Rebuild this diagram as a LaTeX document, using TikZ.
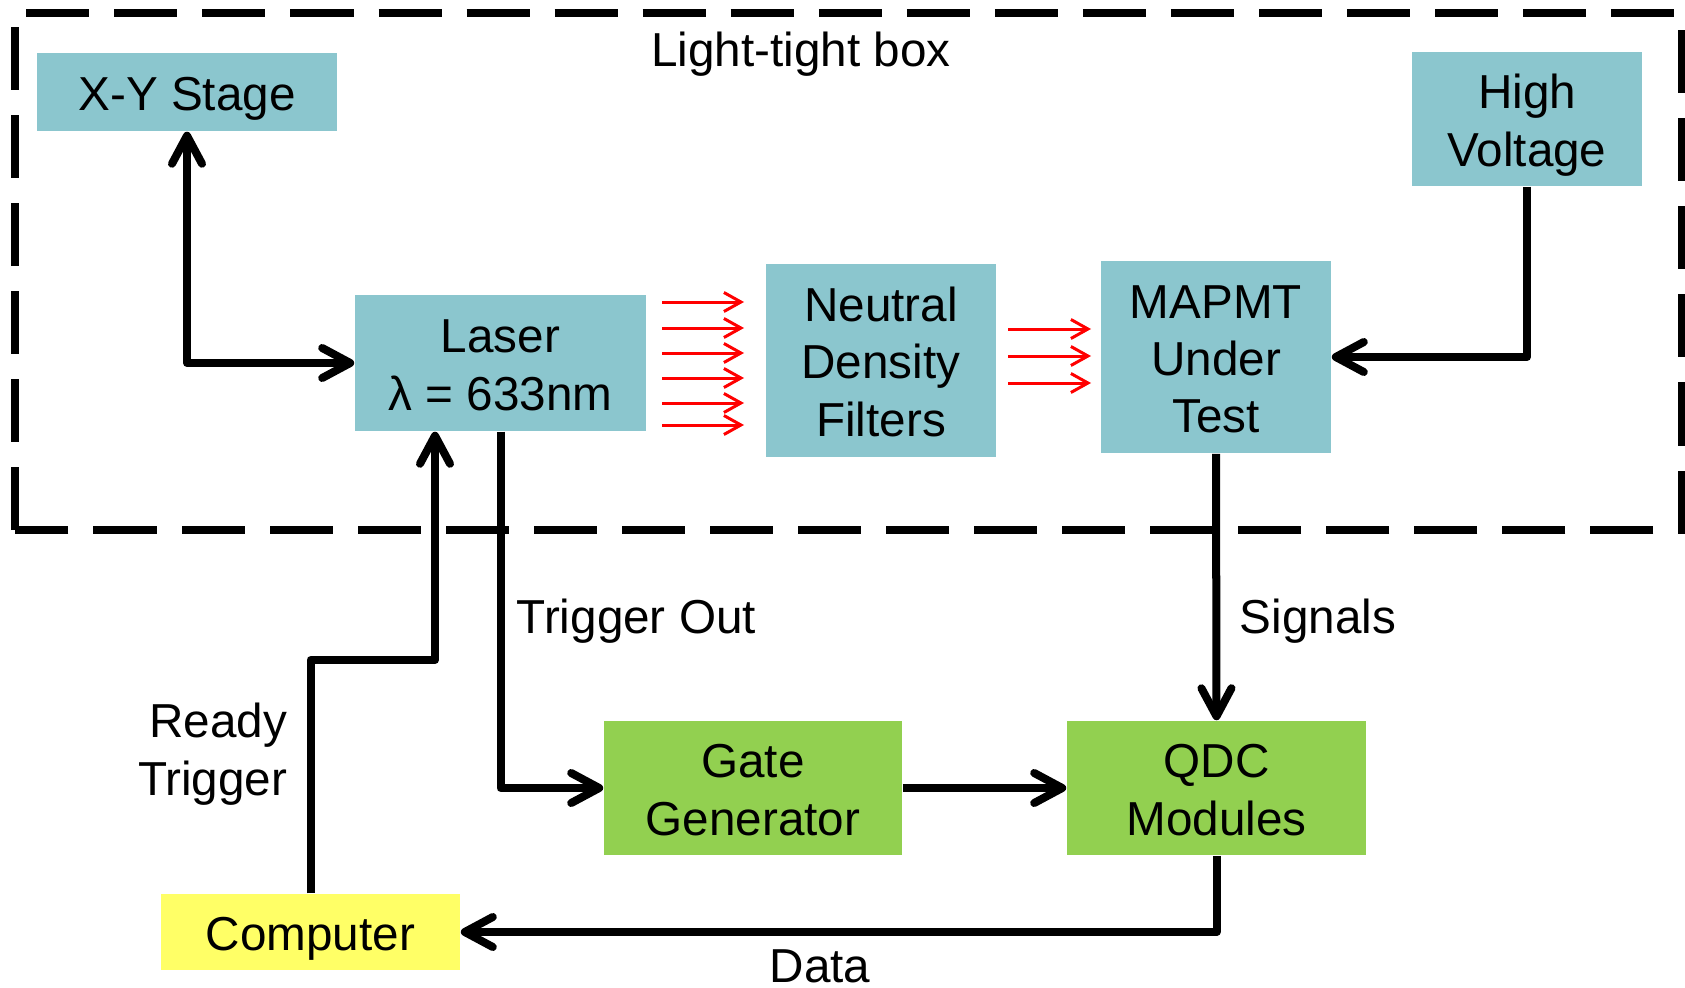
\documentclass[tikz,border=0pt]{standalone}
\usepackage{fontspec}
\setmainfont{Liberation Sans}
\usetikzlibrary{arrows.meta}
\definecolor{tealbox}{RGB}{139,198,206}
\definecolor{greenbox}{RGB}{146,208,80}
\definecolor{yellowbox}{RGB}{255,255,102}
\newcommand\pstrut{\rule[-0.212em]{0pt}{1.2em}}
\newcommand\lstrut{\rule[-0.2535em]{0pt}{1.2em}}
\newcommand\fsz{\fontsize{13.55pt}{16.26pt}\selectfont}
\begin{document}
\begin{tikzpicture}[x=0.01cm,y=-0.01cm,
  >={Straight Barb[length=0.28cm,width=0.3cm,round]},
  box/.style={draw=none, inner sep=0pt, align=center, font=\fsz},
  lbl/.style={inner sep=0pt, font=\fsz},
  conn/.style={line width=0.08cm, line join=round},
  ray/.style={red, line width=0.03cm, -{Straight Barb[length=0.17cm,width=0.19cm]}},
  lightbox/.style={line width=0.08cm, dash pattern=on 0.63cm off 0.25cm}]
\useasboundingbox (0,0) rectangle (1685,988);

% light-tight enclosure
\draw[lightbox] (15,530) -- (15,13) -- (1682,13) -- (1682,530) -- cycle;

% nodes
\node[box, fill=tealbox, minimum width=3.00cm, minimum height=0.78cm] (xy) at (187,92) {\pstrut X-Y Stage};
\node[box, fill=tealbox, minimum width=2.30cm, minimum height=1.34cm] (hv) at (1527,119) {\pstrut High\\\pstrut Voltage};
\node[box, fill=tealbox, minimum width=2.91cm, minimum height=1.36cm] (laser) at (500.5,363) {\pstrut Laser\\\pstrut λ = 633nm};
\node[box, fill=tealbox, minimum width=2.30cm, minimum height=1.93cm] (ndf) at (881,360.5) {\pstrut Neutral\\\pstrut Density\\\pstrut Filters};
\node[box, fill=tealbox, minimum width=2.30cm, minimum height=1.92cm] (mapmt) at (1216,357) {\pstrut MAPMT\\\pstrut Under\\\pstrut Test};
\node[box, fill=greenbox, minimum width=2.98cm, minimum height=1.34cm] (gate) at (753,788) {\pstrut Gate\\\pstrut Generator};
\node[box, fill=greenbox, minimum width=2.99cm, minimum height=1.34cm] (qdc) at (1216.5,788) {\pstrut QDC\\\pstrut Modules};
\node[box, fill=yellowbox, minimum width=2.99cm, minimum height=0.76cm] (comp) at (310.5,932) {\pstrut Computer};

% labels
\node[lbl] (ltitle) at (801,49.5) {\lstrut Light-tight box};
\node[lbl, anchor=west] (lto) at (516,616.5) {\lstrut Trigger Out};
\node[lbl, anchor=west] (lsig) at (1239,616.5) {\lstrut Signals};
\node[lbl, anchor=east, align=right] (lrt) at (288,750) {\lstrut Ready\\\lstrut Trigger};
\node[lbl] (ldata) at (820,965.5) {\lstrut Data};

% connectors
\draw[conn, <->] (xy.south) |- (laser.west);
\draw[conn, ->] (hv.south) |- (mapmt.east);
\draw[conn, ->] (laser.south) |- (gate.west);
\draw[conn, ->] (mapmt.south) -- (qdc.north);
\draw[conn, ->] (gate.east) -- (qdc.west);
\draw[conn, ->] (qdc.south) |- (comp.east);
\coordinate (rt) at (435,660);
\draw[conn, ->] (comp.north) |- (rt) -- (rt |- laser.south);

% light rays
\foreach \y in {302,328,353,378,403,425} \draw[ray] (662,\y) -- (744,\y);
\foreach \y in {329,356,383} \draw[ray] (1008,\y) -- (1091,\y);
\end{tikzpicture}
\end{document}
